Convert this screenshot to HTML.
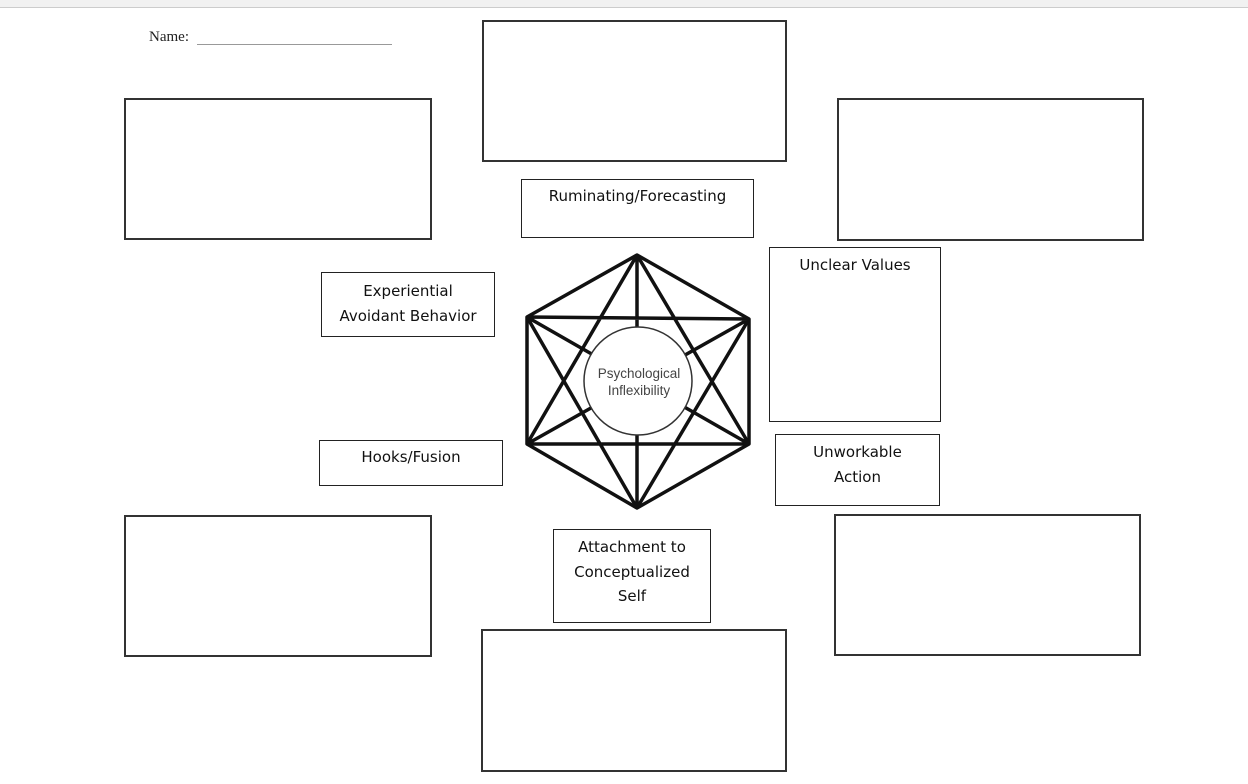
<!DOCTYPE html>
<html><head><style>
body{margin:0;width:1248px;height:784px;background:#fff;overflow:hidden;position:relative;font-family:"Liberation Sans",sans-serif}
.b{position:absolute;border:2px solid #333;box-sizing:border-box;background:#fff}
.l{position:absolute;border:1px solid #222;box-sizing:border-box;background:#fff;font-family:"DejaVu Sans","Liberation Sans",sans-serif;font-size:15px;text-align:center;line-height:25px;color:#111}
</style></head><body>
<div style="position:absolute;left:0;top:0;width:1248px;height:7px;background:#f1f1f1;border-bottom:1px solid #ccc"></div>
<div style="position:absolute;left:149px;top:29px;font-family:'Liberation Serif',serif;font-size:15px;color:#222">Name:</div>
<div style="position:absolute;left:197px;top:44px;width:195px;height:1px;background:#999"></div>
<div class="b" style="left:482px;top:20px;width:305px;height:142px"></div>
<div class="b" style="left:124px;top:98px;width:308px;height:142px"></div>
<div class="b" style="left:837px;top:98px;width:307px;height:143px"></div>
<div class="b" style="left:124px;top:515px;width:308px;height:142px"></div>
<div class="b" style="left:834px;top:514px;width:307px;height:142px"></div>
<div class="b" style="left:481px;top:629px;width:306px;height:143px"></div>
<div class="l" style="left:521px;top:179px;width:233px;height:59px;padding-top:4px">Ruminating/Forecasting</div>
<div class="l" style="left:321px;top:272px;width:174px;height:65px;padding-top:6px">Experiential<br>Avoidant Behavior</div>
<div class="l" style="left:769px;top:247px;width:172px;height:175px;padding-top:5px">Unclear Values</div>
<div class="l" style="left:319px;top:440px;width:184px;height:46px;padding-top:4px">Hooks/Fusion</div>
<div class="l" style="left:775px;top:434px;width:165px;height:72px;padding-top:5px">Unworkable<br>Action</div>
<div class="l" style="left:553px;top:529px;width:158px;height:94px;padding-top:5px;line-height:24.5px">Attachment to<br>Conceptualized<br>Self</div>
<svg style="position:absolute;left:0;top:0" width="1248" height="784">
<g stroke="#111" stroke-width="3.5" fill="none" stroke-linejoin="round">
<polygon points="637,255 749,319 749,444 637,508 527,444 527,317"/>
<path d="M637,255 L637,508 M527,317 L749,319 M527,444 L749,444 M637,255 L527,444 M637,255 L749,444 M527,444 L749,444 M637,508 L527,317 M637,508 L749,319 M527,317 L749,444 M749,319 L527,444"/>
</g>
<circle cx="638" cy="381" r="54" fill="#fff" stroke="#333" stroke-width="1.5"/>
<text x="639" y="378" font-family="Liberation Sans,sans-serif" font-size="13.5" fill="#444" text-anchor="middle">Psychological</text>
<text x="639" y="395" font-family="Liberation Sans,sans-serif" font-size="13.5" fill="#444" text-anchor="middle">Inflexibility</text>
</svg>
</body></html>
